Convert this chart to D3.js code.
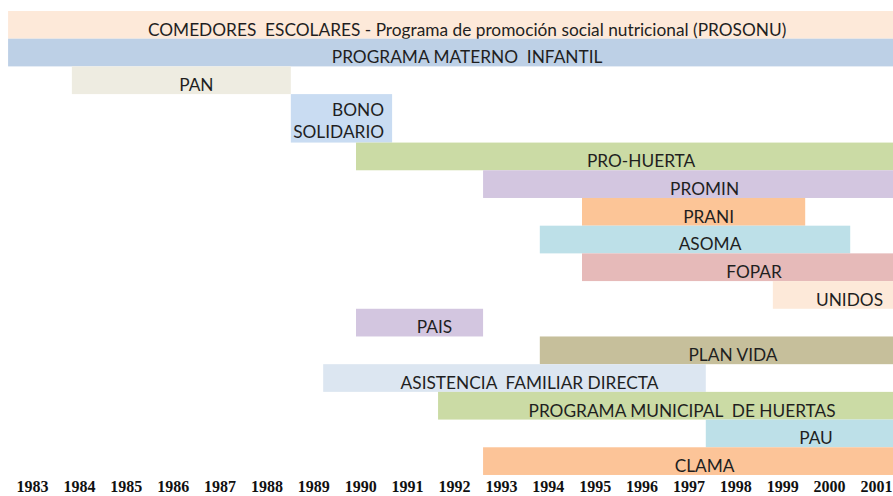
<!DOCTYPE html>
<html>
<head>
<meta charset="utf-8">
<script src="https://cdn.jsdelivr.net/npm/d3@7/dist/d3.min.js"></script>
<style>
  html, body { margin: 0; padding: 0; background: #fff; }
  svg { display: block; }
</style>
</head>
<body>
<div id="chart"></div>
<script>
// Programs, one row each, top to bottom (start/end in years)
const programs = [
  "COMEDORES  ESCOLARES - Programa de promoción social nutricional (PROSONU)",
  "PROGRAMA MATERNO  INFANTIL",
  "PAN",
  "BONO|SOLIDARIO",
  "PRO-HUERTA",
  "PROMIN",
  "PRANI",
  "ASOMA",
  "FOPAR",
  "UNIDOS",
  "PAIS",
  "PLAN VIDA",
  "ASISTENCIA  FAMILIAR DIRECTA",
  "PROGRAMA MUNICIPAL  DE HUERTAS",
  "PAU",
  "CLAMA"
];
const startYear = [1982.49, 1982.49, 1983.85, 1988.52, 1989.91, 1992.62, 1994.73, 1993.83,
                   1994.73, 1998.80, 1989.91, 1993.83, 1989.21, 1991.66, 1997.37, 1992.62];
const endYear   = [2001.43, 2001.43, 1988.52, 1990.68, 2001.43, 2001.43, 1999.49, 2000.45,
                   2001.43, 2001.43, 1992.62, 2001.43, 1997.37, 2001.43, 2001.43, 2001.43];
const colors = ["#FDE9D9", "#BDD0E6", "#EEECE1", "#C9DCF2", "#CBDBA5", "#D3C6E0", "#FCC597", "#BDE0E8",
                "#E6BAB9", "#FDE9D9", "#D3C6E0", "#C6BF9B", "#DCE6F1", "#CBDBA5", "#BDE0E8", "#FCC498"];
const years = d3.range(1983, 2002);

const width = 893, height = 496;
const rowH = 27.7;

const svg = d3.select("#chart").append("svg")
  .attr("width", width)
  .attr("height", height);

const x = d3.scaleLinear()
  .domain([1983, 2001])
  .range([32, 876]);

// rows: two-line labels get a taller row
const rows = programs.map((p, i) => ({
  lines: p.split("|"),
  start: startYear[i],
  end: endYear[i],
  color: colors[i]
}));
let acc = 0;
rows.forEach(r => {
  r.units = 1 + 0.75 * (r.lines.length - 1);
  r.y0 = acc;
  acc += r.units;
});

const y = d3.scaleLinear()
  .domain([0, acc])
  .range([11, 11 + rowH * acc]);

const g = svg.selectAll("g.row")
  .data(rows)
  .enter()
  .append("g")
  .attr("class", "row");

g.append("rect")
  .attr("x", d => x(d.start))
  .attr("y", d => y(d.y0))
  .attr("width", d => x(d.end) - x(d.start))
  .attr("height", d => y(d.y0 + d.units) - y(d.y0))
  .attr("fill", d => d.color);

// labels sit at the bottom of the cell, slightly right of centre
g.each(function(d) {
  const el = d3.select(this);
  const bottom = y(d.y0 + d.units);
  if (d.lines.length > 1) {
    d.lines.forEach((t, k) => {
      el.append("text")
        .attr("x", x(d.end) - 8)
        .attr("y", bottom - 5 - (d.lines.length - 1 - k) * 22)
        .attr("text-anchor", "end")
        .text(t);
    });
  } else {
    el.append("text")
      .attr("x", (x(d.start) + x(d.end)) / 2 + 15)
      .attr("y", bottom - 3)
      .attr("text-anchor", "middle")
      .text(d.lines[0]);
  }
});

svg.selectAll("g.row text")
  .attr("font-family", "Lato, 'Open Sans', sans-serif")
  .attr("font-size", "17.3px")
  .attr("fill", "#1f1f1f")
  .style("white-space", "pre");

// year axis, no line or ticks
const axis = svg.append("g")
  .attr("transform", `translate(0,${height - 4})`)
  .call(d3.axisBottom(x).tickValues(years).tickFormat(d3.format("d")).tickSize(0).tickPadding(0));
axis.select(".domain").remove();
axis.selectAll("text")
  .attr("y", 0)
  .attr("dy", 0)
  .attr("font-family", "'Liberation Serif', 'Times New Roman', serif")
  .attr("font-weight", "bold")
  .attr("font-size", "16px")
  .attr("fill", "#111");
</script>
</body>
</html>
